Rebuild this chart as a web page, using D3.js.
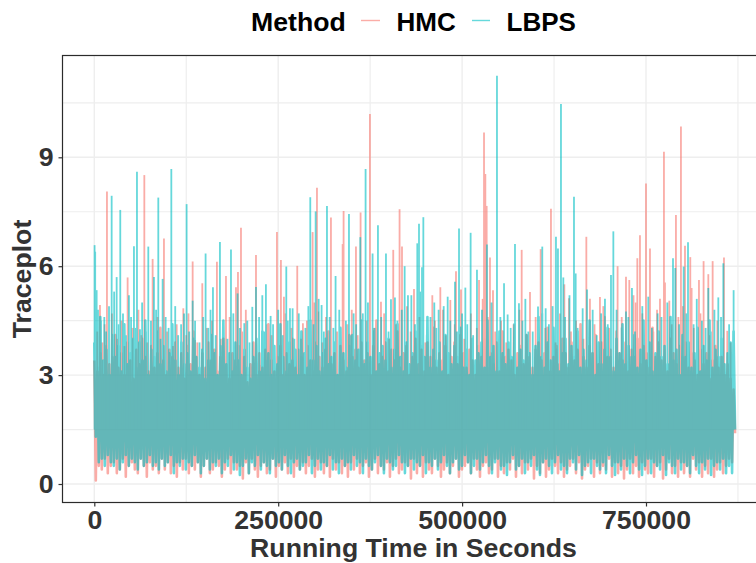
<!DOCTYPE html>
<html><head><meta charset="utf-8">
<script src="https://cdn.jsdelivr.net/npm/d3@7"></script>
<style>html,body{margin:0;padding:0;background:#fff;overflow:hidden}svg{display:block}
text{font-family:"Liberation Sans",Arial,sans-serif;font-weight:700}</style></head>
<body><div id="chart"></div>
<script>
const methods = ["HMC","LBPS"];
const xTicks = [0,250000,500000,750000];
const xMinor = [125000,375000,625000,875000];
const yTicks = [0,3,6,9];
const yMinor = [1.5,4.5,7.5,10.5];
const sampleSeconds = 4080;

// Upper and lower edge of each trace's dense band, one reading per sample
const hmcHigh = [3.4,3.1,3.6,3.0,3.8,3.3,3.5,4.1,3.2,3.6,3.0,3.9,3.4,2.9,3.7,3.3,4.0,3.5,3.1,3.8,
3.2,3.6,4.3,3.4,3.0,3.7,3.5,3.9,3.2,3.6,2.9,3.8,3.3,4.2,3.5,3.0,3.6,3.2,3.9,3.4,
3.7,3.1,3.5,4.0,3.3,2.9,3.6,3.4,3.8,3.1,3.5,2.8,3.3,3.9,3.0,3.6,3.2,3.7,4.4,3.4,
3.1,3.5,3.8,3.0,3.6,3.3,4.0,3.2,3.7,3.5,3.0,3.8,3.4,3.1,3.9,3.5,3.2,3.7,4.2,3.3,
3.6,3.0,3.8,3.4,3.1,4.1,3.5,3.7,3.2,3.9,3.4,3.6,3.0,3.8,4.5,3.3,3.5,3.9,3.1,3.7,
3.4,4.2,3.2,3.6,3.8,3.0,3.5,4.0,3.3,3.7,3.1,3.9,3.5,4.3,3.2,3.6,3.4,3.8,3.0,3.5,
3.9,3.3,4.1,3.6,3.2,3.7,3.4,3.0,3.8,3.5,4.0,3.2,3.6,3.3,3.9,3.1,4.2,3.5,3.7,3.4,
3.0,3.6,3.8,3.3,4.1,3.5,3.2,3.7,3.9,3.4,3.6,4.3,3.1,3.5,3.8,3.3,4.0,3.6,3.2,3.9,
3.4,3.7,4.4,3.5,3.2,3.8,3.6,4.1,3.3,3.9,4.6,3.5,3.7,3.2,4.2,3.6,3.4,3.9,3.1,3.7,
3.5,4.0,3.3,3.8,3.6,3.2,4.3,3.5,3.9,3.4,3.7,3.1,4.0,3.6,3.3,3.8,3.5,3.9,3.2,3.6,
3.4,3.0,3.7,3.3,3.6,2.9,3.4,3.8,3.2,3.5,3.0,3.3,2.9,2.6];
const hmcLow = [0.1,0.5,0.4,0.7,0.3,0.5,0.6,0.3,0.4,0.7,0.2,0.5,0.6,0.4,0.3,0.7,0.5,0.2,0.6,0.4,
0.5,0.3,0.7,0.4,0.6,0.3,0.5,0.2,0.6,0.4,0.7,0.3,0.5,0.4,0.6,0.2,0.5,0.7,0.3,0.4,
0.6,0.5,0.2,0.4,0.7,0.3,0.6,0.4,0.5,0.15,0.6,0.3,0.7,0.4,0.2,0.5,0.6,0.3,0.4,0.7,
0.2,0.5,0.4,0.6,0.3,0.7,0.2,0.5,0.4,0.6,0.3,0.5,0.7,0.2,0.4,0.6,0.3,0.5,0.2,0.7,
0.4,0.6,0.3,0.5,0.2,0.6,0.4,0.7,0.3,0.5,0.6,0.2,0.4,0.7,0.3,0.5,0.4,0.6,0.2,0.5,
0.7,0.3,0.4,0.6,0.5,0.15,0.7,0.3,0.5,0.2,0.6,0.4,0.3,0.7,0.5,0.2,0.4,0.6,0.3,0.5,
0.7,0.2,0.4,0.5,0.6,0.3,0.7,0.4,0.2,0.5,0.6,0.3,0.4,0.7,0.2,0.5,0.3,0.6,0.4,0.7,
0.2,0.5,0.3,0.6,0.4,0.7,0.15,0.5,0.3,0.6,0.2,0.4,0.7,0.5,0.3,0.6,0.2,0.4,0.5,0.7,
0.3,0.6,0.15,0.4,0.5,0.7,0.2,0.6,0.3,0.5,0.4,0.7,0.2,0.6,0.3,0.5,0.15,0.4,0.7,0.3,
0.5,0.2,0.6,0.4,0.3,0.7,0.2,0.5,0.6,0.15,0.4,0.7,0.3,0.5,0.2,0.6,0.3,0.5,0.2,0.7,
0.4,0.6,0.2,0.5,0.3,0.7,0.2,0.4,0.6,0.3,0.5,0.7,0.6,1.4];
const lbpsHigh = [3.9,3.2,4.6,3.4,3.7,3.0,4.1,3.5,3.8,3.1,4.4,3.3,3.6,4.0,3.2,3.9,3.4,4.5,3.0,3.7,
3.5,4.2,3.3,3.8,3.1,3.6,4.4,3.4,3.0,3.9,3.3,3.6,3.1,4.0,3.5,3.2,3.7,2.9,3.4,4.1,
3.6,3.0,3.8,4.5,3.3,3.6,3.1,3.9,3.4,3.0,3.7,3.2,2.9,3.5,4.0,3.1,4.2,3.4,3.6,3.0,
3.8,3.3,4.4,3.5,3.1,3.9,3.4,3.7,3.0,4.2,3.6,3.2,4.5,3.4,3.8,3.1,3.6,4.0,3.3,3.5,
3.9,3.0,4.3,3.6,3.2,3.8,4.1,3.4,3.7,4.5,3.3,3.9,3.5,4.2,3.1,3.6,3.8,3.4,4.0,3.2,
3.7,4.4,3.5,3.1,3.9,3.3,3.6,4.2,3.0,3.8,3.5,4.6,3.2,3.7,3.4,3.9,3.1,4.1,3.6,3.3,
3.8,3.5,4.3,3.2,3.7,3.0,4.0,3.4,3.6,3.9,3.2,4.5,3.5,3.8,3.1,4.2,3.6,3.3,3.9,3.5,
4.4,3.2,3.7,3.4,4.1,3.6,3.0,3.8,4.6,3.5,3.2,3.9,3.4,4.3,3.7,3.1,3.6,4.0,3.3,3.8,
3.5,4.2,3.2,3.7,3.4,4.5,3.6,3.0,3.9,3.3,3.7,4.3,3.5,3.1,4.0,3.6,4.4,3.3,3.8,3.5,
4.1,3.2,3.7,4.5,3.4,3.9,3.1,3.6,4.2,3.5,3.8,3.3,4.6,3.4,3.7,3.0,4.1,3.5,3.9,3.2,
3.6,4.3,3.1,3.8,3.4,4.5,3.2,3.7,3.5,4.0,3.3,3.6,3.9,4.2];
const lbpsLow = [1.3,0.6,0.7,0.5,0.8,0.6,0.5,0.7,0.4,0.6,0.8,0.5,0.7,0.6,0.4,0.7,0.5,0.6,0.8,0.5,
0.6,0.4,0.7,0.5,0.6,0.8,0.3,0.6,0.5,0.7,0.4,0.6,0.5,0.8,0.6,0.3,0.5,0.7,0.4,0.6,
0.5,0.7,0.3,0.6,0.5,0.8,0.4,0.6,0.25,0.5,0.7,0.3,0.6,0.5,0.8,0.4,0.6,0.5,0.3,0.7,
0.5,0.6,0.4,0.8,0.5,0.3,0.6,0.7,0.4,0.5,0.6,0.8,0.3,0.5,0.7,0.4,0.6,0.5,0.8,0.4,
0.6,0.3,0.7,0.5,0.6,0.4,0.8,0.5,0.6,0.3,0.7,0.5,0.4,0.6,0.8,0.5,0.3,0.7,0.6,0.4,
0.5,0.8,0.6,0.3,0.5,0.7,0.4,0.6,0.5,0.8,0.3,0.6,0.5,0.7,0.4,0.6,0.8,0.5,0.3,0.6,
0.7,0.4,0.5,0.8,0.6,0.3,0.5,0.7,0.4,0.6,0.8,0.5,0.3,0.6,0.7,0.4,0.5,0.25,0.6,0.8,
0.4,0.5,0.7,0.3,0.6,0.5,0.8,0.4,0.25,0.6,0.7,0.5,0.3,0.6,0.8,0.4,0.5,0.3,0.7,0.6,
0.4,0.8,0.25,0.5,0.6,0.3,0.7,0.5,0.4,0.6,0.3,0.8,0.5,0.25,0.6,0.4,0.7,0.5,0.3,0.6,
0.8,0.4,0.25,0.5,0.7,0.3,0.6,0.5,0.4,0.8,0.25,0.6,0.5,0.3,0.7,0.4,0.6,0.5,0.3,0.8,
0.5,0.3,0.6,0.4,0.7,0.25,0.5,0.6,0.4,0.7,0.3,0.5,0.3,1.5];

// Individual spikes above the band: time in seconds, height in trace units
const hmcSpikeTime = [7700,17200,45300,68000,79300,94700,121000,133700,136800,146800,166700,179000,192600,195300,199400,219800,225200,248300,253700,257800,275900,283600,296800,302700,304500,321700,337600,338900,355700,362000,374700,389700,406400,415000,418300,434600,459500,470400,484000,491700,498500,523000,529800,531600,533400,537900,542000,581000,592300,606800,620800,639000,645300,668900,673800,687400,711400,722800,727300,738200,741800,750000,755400,769000,774400,775800,781700,790700,797500,803000,810200,812000,822000,828300,834700,840600,856000,860500,
4000,11000,14000,24000,31000,37000,41000,52000,60000,64000,72000,86000,99000,107000,112000,125000,128000,140000,153000,160000,172000,184000,201000,206000,216000,235000,241000,259000,268000,281000,289000,299000,310000,315000,330000,344000,350000,358000,370000,380000,394000,401000,410000,425000,430000,442000,450000,463000,474000,478000,490000,503000,512000,520000,528000,535000,545000,553000,560000,570000,578000,588000,600000,613000,627000,633000,648000,655000,665000,680000,692000,700000,717000,733000,736000,745000,760000,765000,785000,794000,800000,815000,824000,836000,847000,865000];
const hmcSpikeValue = [4.93,8.06,5.69,8.51,6.2,6.76,4.84,6.13,3.97,5.53,6.12,5.73,5.42,5.84,7.06,6.31,3.28,6.94,6.17,5.16,6.01,4.43,6.94,8.16,4.75,7.34,6.61,7.52,6.54,7.48,10.19,5.02,6.45,7.57,6.54,5.37,5.2,5.42,5.07,5.86,5.36,5.62,9.68,8.54,7.66,6.24,5.34,6.45,5.29,6.47,7.58,5.5,5.12,6.81,5.1,5.15,6.0,5.71,5.62,6.22,6.85,8.28,6.49,5.1,9.15,5.55,5.05,7.41,9.85,6.56,6.25,5.4,5.62,6.14,5.78,6.14,6.24,4.22,
4.2,3.9,4.4,4.7,4.0,4.5,3.8,4.3,4.8,4.1,3.9,4.6,4.2,3.8,4.4,4.1,4.7,3.9,4.3,4.5,4.0,4.6,4.2,4.8,3.9,4.4,4.1,4.7,4.3,4.0,4.5,5.0,3.9,4.6,4.2,4.4,4.8,4.1,4.5,4.3,4.7,4.0,4.4,4.9,4.2,4.6,3.9,4.5,4.8,4.1,4.4,4.0,4.7,4.3,5.1,4.6,4.2,4.5,3.9,4.4,4.8,4.1,4.6,4.3,3.9,4.7,4.2,4.5,4.0,4.4,4.9,4.3,4.6,5.2,5.0,4.7,4.2,4.8,4.4,4.6,4.9,4.3,4.7,4.1,4.5,3.9];
const lbpsSpikeTime = [400,1200,3200,13600,23600,30400,35300,47100,53900,58000,62100,73400,81100,87000,92900,104700,125500,133700,151300,161300,170800,185800,194800,203900,214800,219800,228400,233300,239700,261000,266000,269600,293600,300900,309000,316300,328000,346200,352500,361600,368800,378300,385600,396500,403300,408700,421900,426400,439100,441400,445500,447300,462200,468100,480400,490300,495800,504400,511600,520200,533800,547400,557000,561900,571900,577300,590000,603200,609000,613600,627600,630300,634400,637600,652100,654400,663900,669800,677500,694200,702400,705600,716900,722800,730900,753100,765800,786700,789800,801200,807100,814700,831100,834700,848300,855100,869100,
5000,9000,16000,20000,27000,33000,39000,43000,50000,56000,65000,70000,77000,84000,90000,97000,101000,110000,114000,118000,122000,129000,137000,143000,148000,155000,158000,165000,175000,181000,189000,198000,208000,211000,224000,231000,243000,250000,256000,263000,272000,278000,287000,291000,298000,305000,312000,320000,325000,333000,342000,349000,356000,365000,372000,381000,390000,400000,412000,418000,431000,436000,443000,452000,457000,465000,475000,484000,493000,500000,507000,515000,527000,540000,552000,566000,582000,586000,596000,609000,618000,623000,640000,646000,657000,674000,683000,689000,698000,710000,726000,735000,745000,758000,771000,779000,795000,805000,819000,826000,838000,843000,852000,863000];
const lbpsSpikeValue = [6.58,6.4,5.34,4.6,7.94,5.7,7.55,5.2,6.55,8.6,4.26,6.54,5.7,7.89,5.65,8.68,7.71,5.05,6.35,5.42,6.67,6.46,5.25,4.43,4.88,5.43,5.2,5.5,4.63,5.99,4.84,4.84,7.9,7.51,4.93,7.66,5.73,7.44,4.7,6.8,8.68,6.35,7.13,6.35,5.09,5.14,6.0,5.2,6.63,7.17,5.97,7.35,5.0,4.8,5.16,5.57,7.04,5.41,6.92,5.9,6.6,11.25,5.53,4.67,6.61,4.98,4.2,4.89,6.54,4.84,6.81,6.49,10.47,5.69,7.91,5.8,4.84,5.36,4.8,5.1,5.76,6.96,4.31,4.75,5.4,5.16,4.7,6.22,5.95,5.99,6.66,4.4,4.3,5.4,5.14,6.08,5.34,
4.8,4.5,4.2,4.9,5.3,4.4,4.7,4.1,4.6,4.3,5.0,4.2,4.5,4.8,4.0,4.6,4.3,4.9,4.1,4.4,4.7,4.2,4.5,3.9,4.6,4.3,4.8,4.1,4.4,4.0,4.7,4.3,4.5,3.9,4.6,4.2,4.4,4.8,4.1,4.5,4.0,4.7,4.3,4.9,4.4,5.1,4.2,4.6,4.3,4.8,4.5,4.1,4.4,4.7,5.0,4.3,4.6,4.2,4.5,4.8,5.2,4.4,5.3,4.1,4.6,4.3,4.9,4.5,4.2,4.7,4.4,4.1,4.8,5.0,4.6,4.3,4.5,5.1,4.2,4.7,4.4,4.9,4.6,5.2,4.3,4.5,4.1,4.7,4.4,4.8,4.6,4.2,4.9,4.3,4.6,5.0,4.4,4.7,5.1,4.5,4.2,4.8,4.6,4.4];
const spikeBase = 1.5;

const W=756,H=563;
const panel={l:62.5,t:55.5,r:760,b:502.5};
const x=d3.scaleLinear().domain([0,750000]).range([94.3,646]);
const y=d3.scaleLinear().domain([0,9]).range([484,157.3]);
const colour=d3.scaleOrdinal().domain(methods).range(["#F8766D","#00BFC4"]);

const svg=d3.select("#chart").append("svg").attr("width",W).attr("height",H);
svg.append("rect").attr("width",W).attr("height",H).attr("fill","#fff");

const grid=svg.append("g").attr("stroke","#EEEEEE");
grid.selectAll(".vm").data(xMinor).join("line")
  .attr("x1",x).attr("x2",x).attr("y1",panel.t).attr("y2",panel.b).attr("stroke-width",1.2);
grid.selectAll(".hm").data(yMinor).join("line")
  .attr("x1",panel.l).attr("x2",panel.r).attr("y1",y).attr("y2",y).attr("stroke-width",1.2);
grid.selectAll(".vM").data(xTicks).join("line")
  .attr("x1",x).attr("x2",x).attr("y1",panel.t).attr("y2",panel.b).attr("stroke-width",1.4);
grid.selectAll(".hM").data(yTicks).join("line")
  .attr("x1",panel.l).attr("x2",panel.r).attr("y1",y).attr("y2",y).attr("stroke-width",1.4);

function bandPoints(high,low){
  return high.flatMap((v,i)=>[{t:i*sampleSeconds,v},{t:(i+.5)*sampleSeconds,v:low[i]}]);
}
const line=d3.line().x(d=>x(d.t)).y(d=>y(d.v));
const traces=[
 {m:"HMC",band:bandPoints(hmcHigh,hmcLow),st:hmcSpikeTime,sv:hmcSpikeValue},
 {m:"LBPS",band:bandPoints(lbpsHigh,lbpsLow),st:lbpsSpikeTime,sv:lbpsSpikeValue}
];
const layers=svg.append("g").selectAll("g").data(traces).join("g").attr("opacity",.6);
layers.append("path").attr("d",d=>line(d.band)).attr("fill","none")
  .attr("stroke",d=>colour(d.m)).attr("stroke-width",2.6).attr("stroke-linejoin","round");
layers.selectAll("line").data(d=>d.st.map((t,i)=>({t,v:d.sv[i],m:d.m}))).join("line")
  .attr("x1",d=>x(d.t)).attr("x2",d=>x(d.t)).attr("y1",y(spikeBase)).attr("y2",d=>y(d.v))
  .attr("stroke",d=>colour(d.m)).attr("stroke-width",1.8);

svg.append("rect").attr("x",panel.l).attr("y",panel.t).attr("width",panel.r-panel.l).attr("height",panel.b-panel.t)
  .attr("fill","none").attr("stroke","#2b2b2b").attr("stroke-width",1.2);

const xAxis=svg.append("g").attr("transform",`translate(0,${panel.b})`)
  .call(d3.axisBottom(x).tickValues(xTicks).tickFormat(d3.format("d")).tickSize(4).tickPadding(4));
const yAxis=svg.append("g").attr("transform",`translate(${panel.l},0)`)
  .call(d3.axisLeft(y).tickValues(yTicks).tickSize(4).tickPadding(5));
[xAxis,yAxis].forEach(a=>{
  a.select(".domain").remove();
  a.selectAll("line").attr("stroke","#333").attr("stroke-width",1.2);
  a.selectAll("text").attr("fill","#333").style("font-size","26.67px").style("font-weight",700).style("font-family",'"Liberation Sans"');
});

svg.append("text").attr("x",413.5).attr("y",557).attr("text-anchor","middle").attr("fill","#333").style("font-size","26.67px").text("Running Time in Seconds");
svg.append("text").attr("transform","translate(31,279) rotate(-90)").attr("text-anchor","middle").attr("fill","#333").style("font-size","26.67px").text("Traceplot");

const lg=svg.append("g");
lg.append("text").attr("x",251).attr("y",31).attr("fill","#000").style("font-size","26.67px").text("Method");
const legendSlots=[{m:"HMC",k0:361,k1:380,tx:396.5},{m:"LBPS",k0:472,k1:490,tx:506.5}];
legendSlots.forEach(s=>{
  lg.append("line").attr("x1",s.k0).attr("x2",s.k1).attr("y1",20.5).attr("y2",20.5).attr("stroke",colour(s.m)).attr("stroke-opacity",.6).attr("stroke-width",1.4);
  lg.append("text").attr("x",s.tx).attr("y",31).attr("fill","#000").style("font-size","26px").text(s.m);
});
</script></body></html>
